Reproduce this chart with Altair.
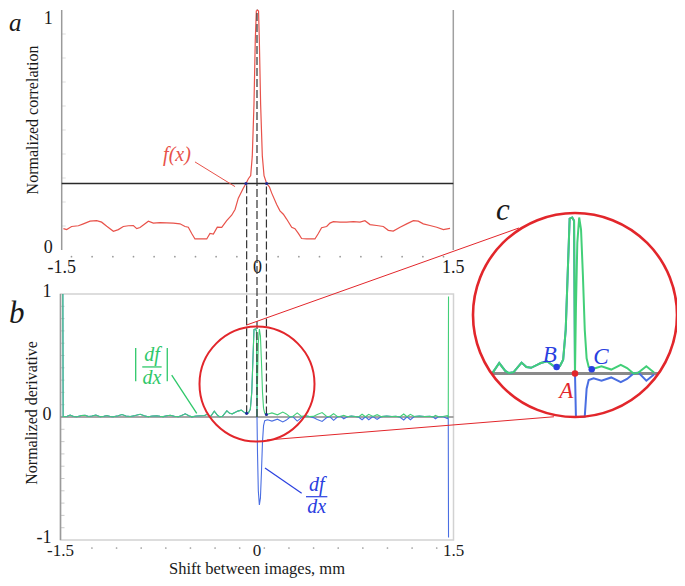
import altair as alt
import pandas as pd

# ---------------- data ----------------
# (a) normalized correlation f(x)
corr_x = [-1.487, -1.462, -1.424, -1.372, -1.334, -1.283, -1.232, -1.194, -1.155, -1.104,
          -1.066, -1.028, -0.989, -0.951, -0.925, -0.900, -0.836, -0.798, -0.747, -0.696,
          -0.645, -0.594, -0.555, -0.530, -0.504, -0.479, -0.440, -0.389, -0.364, -0.338,
          -0.308, -0.274, -0.236, -0.198, -0.172, -0.147, -0.109, -0.088, -0.070, -0.052,
          -0.040, -0.027, -0.017, -0.009, 0.000,
          0.008, 0.014, 0.024, 0.037, 0.050, 0.070, 0.091, 0.109, 0.147, 0.172,
          0.198, 0.223, 0.262, 0.287, 0.313, 0.338, 0.377, 0.440, 0.466, 0.491,
          0.530, 0.555, 0.581, 0.632, 0.683, 0.734, 0.785, 0.823, 0.862, 0.913,
          0.964, 1.002, 1.040, 1.092, 1.143, 1.194, 1.232, 1.270, 1.321, 1.373,
          1.424, 1.475]
corr_y = [0.089, 0.085, 0.098, 0.101, 0.109, 0.120, 0.122, 0.116, 0.099, 0.078,
          0.085, 0.098, 0.101, 0.102, 0.089, 0.094, 0.120, 0.112, 0.114, 0.113,
          0.112, 0.109, 0.098, 0.095, 0.069, 0.046, 0.046, 0.046, 0.069, 0.066,
          0.095, 0.094, 0.122, 0.145, 0.169, 0.216, 0.257, 0.277, 0.297, 0.310,
          0.391, 0.606, 0.875, 0.996, 1.000,
          0.996, 0.875, 0.606, 0.391, 0.310, 0.277, 0.263, 0.237, 0.190, 0.163,
          0.149, 0.129, 0.095, 0.089, 0.069, 0.048, 0.046, 0.046, 0.069, 0.093,
          0.098, 0.112, 0.118, 0.116, 0.116, 0.118, 0.116, 0.122, 0.106, 0.102,
          0.098, 0.082, 0.079, 0.095, 0.109, 0.122, 0.120, 0.109, 0.102, 0.095,
          0.085, 0.090]

# (b) normalized derivative df/dx (|df/dx| is its absolute value)
deriv_x = [-1.482, -1.480, -1.450, -1.426, -1.400, -1.375, -1.340, -1.312, -1.285, -1.261,
           -1.230, -1.197, -1.170, -1.146, -1.120, -1.098, -1.060, -1.031, -1.000, -0.968,
           -0.930, -0.892, -0.860, -0.830, -0.800, -0.764, -0.740, -0.716, -0.690, -0.662,
           -0.630, -0.601, -0.575, -0.548, -0.520, -0.497, -0.465, -0.433, -0.400, -0.380,
           -0.354, -0.326, -0.300, -0.285, -0.264, -0.230, -0.209, -0.189, -0.161, -0.147,
           -0.120, -0.092, -0.079, -0.065, -0.051, -0.040, -0.030, -0.023, -0.012, -0.004,
           0.000, 0.004, 0.010, 0.018, 0.026, 0.034, 0.042, 0.050, 0.059, 0.080,
           0.114, 0.156, 0.197, 0.224, 0.252, 0.273, 0.307, 0.340, 0.370, 0.400,
           0.430, 0.460, 0.497, 0.530, 0.555, 0.585, 0.615, 0.640, 0.662, 0.690,
           0.720, 0.750, 0.775, 0.802, 0.828, 0.853, 0.885, 0.917, 0.950, 0.990,
           1.030, 1.060, 1.090, 1.120, 1.145, 1.171, 1.200, 1.240, 1.280, 1.320,
           1.345, 1.362, 1.385, 1.420, 1.452, 1.460, 1.462]
deriv_y = [1.000, 0.004, 0.006, 0.016, 0.004, 0.002, 0.012, 0.014, 0.004, 0.008,
           0.016, 0.002, 0.006, 0.012, 0.004, 0.002, 0.010, 0.020, 0.008, 0.004,
           0.012, 0.022, 0.010, 0.002, 0.008, 0.010, 0.006, 0.003, 0.010, 0.014,
           0.006, 0.002, 0.012, 0.026, 0.010, 0.001, 0.008, 0.010, 0.012, 0.022,
           0.004, 0.048, 0.012, 0.002, 0.006, 0.050, 0.030, 0.026, 0.041, 0.048,
           0.056, 0.034, 0.030, 0.034, 0.063, 0.200, 0.500, 0.710, 0.715, 0.700,
           0.000, -0.300, -0.600, -0.715, -0.660, -0.450, -0.200, -0.070, -0.030, -0.022,
           -0.033, -0.018, -0.040, -0.025, 0.000, 0.004, -0.033, -0.005, 0.010, 0.004,
           -0.005, -0.020, -0.036, -0.006, 0.004, -0.027, 0.002, 0.006, -0.014, 0.002,
           0.008, 0.004, 0.000, -0.022, 0.002, -0.022, 0.004, -0.019, 0.003, 0.008,
           0.004, 0.006, 0.000, -0.024, 0.002, -0.022, 0.004, 0.008, 0.004, 0.006,
           0.000, -0.014, 0.002, 0.004, -0.012, 0.000, -0.980]

x_tick_values = [-1.5, 0, 1.5]
x_tick_labels = ["-1.5", "0", "1.5"]
corr_tick_values = [0, 1]
corr_tick_labels = ["0", "1"]
deriv_tick_values = [-1, 0, 1]
deriv_tick_labels = ["-1", "0", "1"]
minor_y_corr = [0.1, 0.2, 0.3, 0.4, 0.5, 0.6, 0.7, 0.8, 0.9]
minor_y_deriv = [-0.9, -0.8, -0.7, -0.6, -0.5, -0.4, -0.3, -0.2, -0.1,
                 0.1, 0.2, 0.3, 0.4, 0.5, 0.6, 0.7, 0.8, 0.9]
minor_x_corr = [-1.425, -1.267, -1.108, -0.950, -0.792, -0.633, -0.475, -0.317, -0.158,
                0.158, 0.317, 0.475, 0.633, 0.792, 0.950, 1.108, 1.267, 1.425]
minor_x_deriv = [-1.260, -1.072, -0.884, -0.696, -0.508, -0.320, -0.132, 0.056, 0.244,
                 0.432, 0.620, 0.808, 0.996, 1.184, 1.372]
threshold = 0.277
crossing_x = [-0.088, 0.070]
marker_name = ["B", "A", "C"]
marker_x = [-0.079, 0.0, 0.072]
marker_y = [0.030, 0.0, 0.020]
dash_top = [1.90, 3.31, 1.90]
lens_center = (0.0, 0.268)

# ---------------- styling / layout ----------------
SERIF = "Liberation Serif"
TXT = "#1a1a1a"
RED_CURVE = "#e8524a"
RED = "#e2262b"
GREEN = "#42cf78"
GREEN_TXT = "#2fc86a"
BLUE = "#4a6ee2"
BLUE_TXT = "#2a40e0"
NAVY = "#1c2a9a"
GRAY = "#8a8a8a"
AXIS_GRAY = "#9a9a9a"

W, H = 669, 570
XA = alt.Scale(domain=[-1.5, 1.5], range=[53.7, 445.3], nice=False, zero=False)
YA = alt.Scale(domain=[0, 1], range=[242, 2], nice=False, zero=False)
XB = alt.Scale(domain=[-1.5, 1.5], range=[52.5, 445.5], nice=False, zero=False)
YB = alt.Scale(domain=[-1, 1], range=[532, 286], nice=False, zero=False)
XC = alt.Scale(domain=[-1, 1], range=[334.6, 799.4], nice=False, zero=False)
YC = alt.Scale(domain=[-1, 1], range=[583.7, 147.3], nice=False, zero=False)


def X(f, s):
    return alt.X(f"{f}:Q", scale=s, axis=None)


def Y(f, s):
    return alt.Y(f"{f}:Q", scale=s, axis=None)


def seg(rows, xs, ys, color, width=1.0, dash=None):
    df = pd.DataFrame(rows, columns=["x", "y", "x2", "y2"])
    kw = dict(color=color, strokeWidth=width)
    if dash:
        kw["strokeDash"] = dash
    return alt.Chart(df).mark_rule(**kw).encode(
        x=X("x", xs), y=Y("y", ys), x2=alt.X2("x2"), y2=alt.Y2("y2"))


def label(rows, xs, ys, color, size, italic=True, align="center", baseline="middle", **extra):
    df = pd.DataFrame(rows, columns=["x", "y", "t"])
    kw = dict(color=color, fontSize=size, font=SERIF, align=align, baseline=baseline)
    if italic:
        kw["fontStyle"] = "italic"
    kw.update(extra)
    return alt.Chart(df).mark_text(**kw).encode(x=X("x", xs), y=Y("y", ys), text="t:N")


def fixed_text(text, px, py, size, angle=0, italic=False, align="center",
               baseline="middle", color=TXT):
    kw = dict(font=SERIF, fontSize=size, color=color, align=align, baseline=baseline)
    if italic:
        kw["fontStyle"] = "italic"
    if angle:
        kw["angle"] = angle
    return alt.Chart(pd.DataFrame({"t": [text]})).mark_text(**kw).encode(
        x=alt.value(px), y=alt.value(py), text="t:N")


# ---------------- panel a ----------------
corr_df = pd.DataFrame({"x": corr_x, "y": corr_y})
a_curve = alt.Chart(corr_df).mark_line(color=RED_CURVE, strokeWidth=1.2).encode(
    x=X("x", XA), y=Y("y", YA))
a_axis = seg([(-1.5, 0, -1.5, 1)], XA, YA, AXIS_GRAY, 1.5)
a_right = seg([(1.5, 0, 1.5, 1)], XA, YA, "#a0a0a0", 1.5)
a_minor_y = alt.Chart(pd.DataFrame({"x": -1.5, "y": minor_y_corr})).mark_tick(
    orient="horizontal", size=4, thickness=1, color="#cfcfcf", xOffset=2).encode(
    x=X("x", XA), y=Y("y", YA))
a_dots = alt.Chart(pd.DataFrame({"x": minor_x_corr, "y": -0.028})).mark_circle(
    size=3, color="#999999", opacity=1).encode(x=X("x", XA), y=Y("y", YA))
a_ylab0 = label([(-1.5, corr_tick_values[0], corr_tick_labels[0])],
                XA, YA, TXT, 18, italic=False, align="right", dx=-9, dy=-2)
a_ylab1 = label([(-1.5, corr_tick_values[1], corr_tick_labels[1])],
                XA, YA, TXT, 18, italic=False, align="right", dx=-9, dy=9)
a_xlab = label([(v, 0, t) for v, t in zip(x_tick_values, x_tick_labels)],
               XA, YA, TXT, 18, italic=False, baseline="alphabetic", dy=23)
a_title = fixed_text("Normalized correlation", 25, 112, 16, angle=270)
a_thresh = seg([(-1.5, threshold, 1.5, threshold)], XA, YA, "#2a2a2a", 1.3)
a_cross = alt.Chart(pd.DataFrame({"x": crossing_x, "y": threshold})).mark_circle(
    size=10, color=NAVY, opacity=1).encode(x=X("x", XA), y=Y("y", YA))
a_leader = seg([(-0.479, 0.367, -0.172, 0.264)], XA, YA, RED_CURVE, 1.0)
a_fx = label([(-0.617, 0.396, "f(x)")], XA, YA, RED_CURVE, 20)
a_letter = fixed_text("a", 1, 23, 25, italic=True, align="left", baseline="alphabetic")

panel_a = alt.layer(a_minor_y, a_dots, a_axis, a_right, a_thresh, a_curve, a_cross,
                    a_leader, a_fx, a_ylab0, a_ylab1, a_xlab, a_title, a_letter)

# ---------------- panel b ----------------
deriv_df = pd.DataFrame({"x": deriv_x, "y": deriv_y})
b_frame = alt.Chart(pd.DataFrame({"x": [-1.5], "x2": [1.5], "y": [-1], "y2": [1]})).mark_rect(
    fill=None, stroke="#d2d2d2", strokeWidth=1.5).encode(
    x=X("x", XB), x2=alt.X2("x2"), y=Y("y", YB), y2=alt.Y2("y2"))
b_axis = seg([(-1.5, -1, -1.5, 1)], XB, YB, AXIS_GRAY, 1.5)
b_zero = seg([(-1.5, 0, 1.5, 0)], XB, YB, GRAY, 1.6)
b_minor_y = alt.Chart(pd.DataFrame({"x": -1.5, "y": minor_y_deriv})).mark_tick(
    orient="horizontal", size=4, thickness=1, color="#b5b5b5", xOffset=2).encode(
    x=X("x", XB), y=Y("y", YB))
b_dots = alt.Chart(pd.DataFrame({"x": minor_x_deriv, "y": -1.065})).mark_circle(
    size=3, color="#999999", opacity=1).encode(x=X("x", XB), y=Y("y", YB))
b_ylab = label([(-1.5, v, t) for v, t in zip(deriv_tick_values, deriv_tick_labels)],
               XB, YB, TXT, 18, italic=False, align="right", dx=-9, dy=-2)
b_xlab = label([(v, -1, t) for v, t in zip(x_tick_values, x_tick_labels)],
               XB, YB, TXT, 17, italic=False, baseline="alphabetic", dy=16)
b_ytitle = fixed_text("Normalized derivative", 24, 405, 16, angle=270)
b_xtitle = fixed_text("Shift between images, mm", 249, 566, 16.5, baseline="alphabetic")
b_blue = alt.Chart(deriv_df).mark_line(color=BLUE, strokeWidth=1.1).encode(
    x=X("x", XB), y=Y("y", YB))
b_green = alt.Chart(deriv_df).transform_calculate(ya="abs(datum.y)").mark_line(
    color=GREEN, strokeWidth=1.1).encode(x=X("x", XB), y=Y("ya", YB))
dash_df = pd.DataFrame({"x": marker_x, "y": marker_y, "y2": dash_top})
b_dash = alt.Chart(dash_df).mark_rule(color="#333333", strokeWidth=1.2,
                                      strokeDash=[8, 3]).encode(
    x=X("x", XB), y=Y("y", YB), y2=alt.Y2("y2"))
b_marks = alt.Chart(pd.DataFrame({"x": [marker_x[0], marker_x[2]],
                                  "y": [marker_y[0], marker_y[2]]})).mark_circle(
    size=10, color=NAVY, opacity=1).encode(x=X("x", XB), y=Y("y", YB))
b_lens = alt.Chart(pd.DataFrame({"x": [lens_center[0]], "y": [lens_center[1]]})).mark_point(
    shape="circle", filled=False, size=13225, color=RED, strokeWidth=2, opacity=1).encode(
    x=X("x", XB), y=Y("y", YB))
b_connect = seg([(-0.079, 0.748, 2.000, 1.537), (0.076, -0.187, 2.267, 0.002)],
                XB, YB, RED, 1.0)
b_green_lbl = label([(-0.802, 0.455, "df"), (-0.802, 0.270, "dx")], XB, YB, GREEN_TXT, 20,
                    baseline="alphabetic")
b_green_bars = seg([(-0.876, 0.407, -0.728, 0.407), (-0.926, 0.560, -0.926, 0.290),
                    (-0.685, 0.560, -0.685, 0.290), (-0.651, 0.341, -0.460, 0.030)],
                   XB, YB, GREEN_TXT, 1.3)
b_blue_lbl = label([(0.456, -0.598, "df"), (0.456, -0.782, "dx")], XB, YB, BLUE_TXT, 20,
                   baseline="alphabetic")
b_blue_bars = seg([(0.374, -0.648, 0.537, -0.648), (0.061, -0.415, 0.341, -0.620)],
                  XB, YB, BLUE_TXT, 1.2)
b_letter = fixed_text("b", 1, 315, 31, italic=True, align="left", baseline="alphabetic")

panel_b = alt.layer(b_frame, b_minor_y, b_dots, b_axis, b_zero, b_blue, b_green, b_dash,
                    b_marks, b_lens, b_connect, b_green_lbl, b_green_bars, b_blue_lbl,
                    b_blue_bars, b_ylab, b_xlab, b_ytitle, b_xtitle, b_letter)

# ---------------- panel c (magnified inset) ----------------
inset = alt.Chart(deriv_df).transform_filter("abs(datum.x) <= 0.36").transform_calculate(
    half="sqrt(max(0, 57.5*57.5 - pow(131*datum.x, 2))) / 123",
).transform_calculate(
    yb="clamp(datum.y, 0.268 - datum.half, 0.268 + datum.half)",
    yg="clamp(abs(datum.y), 0.268 - datum.half, 0.268 + datum.half)")
c_blue = inset.mark_line(color=BLUE, strokeWidth=2).encode(x=X("x", XC), y=Y("yb", YC))
c_green = inset.mark_line(color=GREEN, strokeWidth=2).encode(x=X("x", XC), y=Y("yg", YC))
c_zero = seg([(-0.36, 0, 0.36, 0)], XC, YC, GRAY, 3)
c_circle = alt.Chart(pd.DataFrame({"x": [lens_center[0]], "y": [lens_center[1]]})).mark_point(
    shape="circle", filled=False, size=41616, color=RED, strokeWidth=2.6, opacity=1).encode(
    x=X("x", XC), y=Y("y", YC))
mk = pd.DataFrame({"x": marker_x, "y": marker_y, "n": marker_name})
c_dots = alt.Chart(mk).mark_circle(size=42, opacity=1).encode(
    x=X("x", XC), y=Y("y", YC),
    color=alt.Color("n:N", scale=alt.Scale(domain=["A", "B", "C"],
                                           range=[RED, BLUE_TXT, BLUE_TXT]), legend=None))
c_lbl_bc = label([(-0.108, 0.086, "B"), (0.112, 0.077, "C")], XC, YC, BLUE_TXT, 23)
c_lbl_a = label([(-0.037, -0.079, "A")], XC, YC, RED, 23)
c_letter = label([(-0.310, 0.745, "c")], XC, YC, TXT, 31)

panel_c = alt.layer(c_zero, c_blue, c_green, c_circle, c_dots, c_lbl_bc, c_lbl_a, c_letter)

chart = alt.layer(panel_a, panel_b, panel_c).resolve_scale(
    x="independent", y="independent", color="independent"
).properties(
    width=W, height=H, autosize=alt.AutoSizeParams(type="none"), padding=0
).configure_view(stroke=None)

chart.save("out.html", embed_options={"renderer": "svg", "actions": False})
